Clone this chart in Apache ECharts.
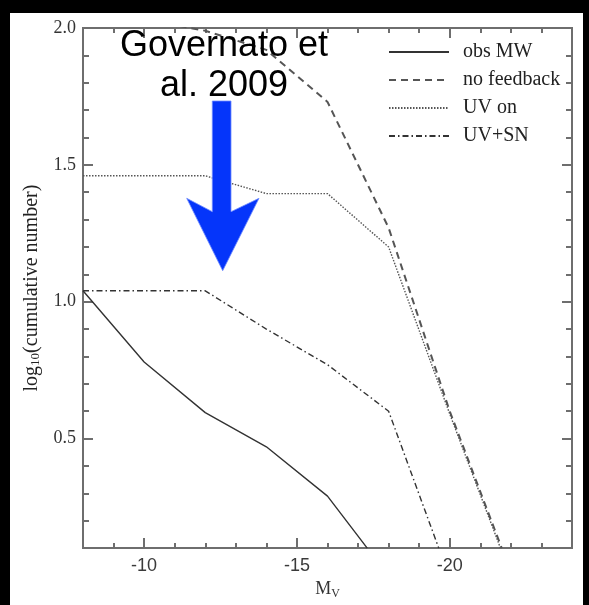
<!DOCTYPE html>
<html>
<head>
<meta charset="utf-8">
<script src="https://cdn.jsdelivr.net/npm/echarts@6/dist/echarts.min.js"></script>
<style>
html,body{margin:0;padding:0;background:#000;}
#chart{width:589px;height:605px;}
</style>
</head>
<body>
<div id="chart"></div>
<script>
// ---- data (M_V, log10 cumulative number) ----
var seriesNames = ['obs MW', 'no feedback', 'UV on', 'UV+SN'];
var obsMW = [[-8, 1.04], [-10, 0.78], [-12, 0.595], [-14, 0.47], [-16, 0.29], [-17.3, 0.1]];
var noFeedback = [[-10, 2.03], [-12, 1.99], [-14, 1.92], [-16, 1.73], [-18, 1.27], [-20, 0.60], [-21.7, 0.1]];
var uvOn = [[-8, 1.46], [-10, 1.46], [-12, 1.46], [-14, 1.395], [-16, 1.395], [-18, 1.20], [-20, 0.59], [-21.66, 0.1]];
var uvSN = [[-8, 1.04], [-10, 1.04], [-12, 1.04], [-14, 0.90], [-16, 0.77], [-18, 0.60], [-19.64, 0.1]];
var xMajorTicks = [-10, -15, -20];
var yMajorTicks = [0.5, 1.0, 1.5, 2.0];

var chart = echarts.init(document.getElementById('chart'), null, {renderer: 'canvas'});
var axisColor = '#6e6e6e';
var xMin = -24, xMax = -8, yMin = 0.1, yMax = 2.0;

function xAx(pos, major, labels) {
  return {
    type: 'value', position: pos, inverse: true, min: xMin, max: xMax, interval: 1,
    axisLine: {show: true, lineStyle: {color: axisColor, width: 2}},
    axisTick: major ? {show: true, inside: true, length: 10, customValues: xMajorTicks, lineStyle: {color: axisColor, width: 2}}
                    : {show: true, inside: true, length: 5, lineStyle: {color: axisColor, width: 2}},
    axisLabel: labels ? {show: true, customValues: xMajorTicks, margin: 9, color: '#3a3a3a',
                 fontFamily: 'Liberation Sans', fontSize: 18, formatter: function (v) { return String(v); }}
                      : {show: false},
    splitLine: {show: false},
    name: labels ? '{m|M}{s|V}' : '',
    nameLocation: 'middle', nameGap: 29,
    nameTextStyle: {rich: {m: {fontFamily: 'Liberation Serif', fontSize: 18, color: '#333'},
                           s: {fontFamily: 'Liberation Serif', fontSize: 12, color: '#333', padding: [10, 0, 0, 0]}}}
  };
}
function yAx(pos, major, labels) {
  return {
    type: 'value', position: pos, min: yMin, max: yMax, interval: 0.1,
    axisLine: {show: true, lineStyle: {color: axisColor, width: 2}},
    axisTick: major ? {show: true, inside: true, length: 10, customValues: yMajorTicks, lineStyle: {color: axisColor, width: 2}}
                    : {show: true, inside: true, length: 6, lineStyle: {color: axisColor, width: 2}},
    axisLabel: labels ? {show: true, customValues: yMajorTicks, margin: 7, color: '#333',
                 fontFamily: 'Liberation Serif', fontSize: 18, formatter: function (v) { return v.toFixed(1); }}
                      : {show: false},
    splitLine: {show: false},
    name: labels ? '{a|log}{b|10}{a|(cumulative number)}' : '',
    nameLocation: 'middle', nameGap: 41, nameRotate: 90,
    nameTextStyle: {rich: {a: {fontFamily: 'Liberation Serif', fontSize: 20, color: '#222'},
                           b: {fontFamily: 'Liberation Serif', fontSize: 13, color: '#222', padding: [8, 0, 0, 0]}}}
  };
}

function lineSeries(name, data, type, width, color) {
  return {
    name: name, type: 'line', data: data, symbol: 'none', showSymbol: false,
    xAxisIndex: 0, yAxisIndex: 0, clip: true, z: 5,
    lineStyle: {type: type, width: width, color: color},
    itemStyle: {color: color},
    emphasis: {disabled: true}
  };
}

var option = {
  backgroundColor: '#000',
  animation: false,
  grid: {left: 83, right: 17, top: 28, bottom: 53, show: false},
  xAxis: [xAx('bottom', false, true), xAx('bottom', true, false), xAx('top', false, false), xAx('top', true, false)],
  yAxis: [yAx('left', false, true), yAx('left', true, false), yAx('right', false, false), yAx('right', true, false)],
  legend: {
    show: true, orient: 'vertical', left: 388, top: 42, padding: 0,
    itemWidth: 60, itemHeight: 14, itemGap: 8,
    data: seriesNames,
    itemStyle: {opacity: 0, color: 'transparent', borderWidth: 0},
    textStyle: {fontFamily: 'Liberation Serif', fontSize: 20, color: '#222', padding: [0, 0, 0, 9]},
    selectedMode: false
  },
  series: [
    lineSeries(seriesNames[0], obsMW, 'solid', 1.4, '#333'),
    lineSeries(seriesNames[1], noFeedback, [7, 5], 2, '#555'),
    lineSeries(seriesNames[2], uvOn, [1.5, 1.5], 1.4, '#555'),
    lineSeries(seriesNames[3], uvSN, [6, 3, 1.5, 3], 1.4, '#333')
  ],
  graphic: [
    {type: 'rect', z: -10, silent: true, shape: {x: 10, y: 13, width: 573, height: 592}, style: {fill: '#fff'}},
    {type: 'polygon', z: 100, silent: true,
     shape: {points: [[212.3, 101], [231, 101], [231, 211.7], [259, 198.3], [222.7, 270.7], [186.7, 198.3], [212.3, 211.7]]},
     style: {fill: '#0535fa', stroke: '#6f8cff', lineWidth: 0.8}},
    {type: 'text', z: 100, silent: true, x: 224, y: 26,
     style: {text: 'Governato et\nal. 2009', fontFamily: 'Liberation Sans', fontSize: 36, lineHeight: 40,
             fill: '#000', align: 'center', verticalAlign: 'top'}}
  ]
};
chart.setOption(option);
</script>
</body>
</html>
